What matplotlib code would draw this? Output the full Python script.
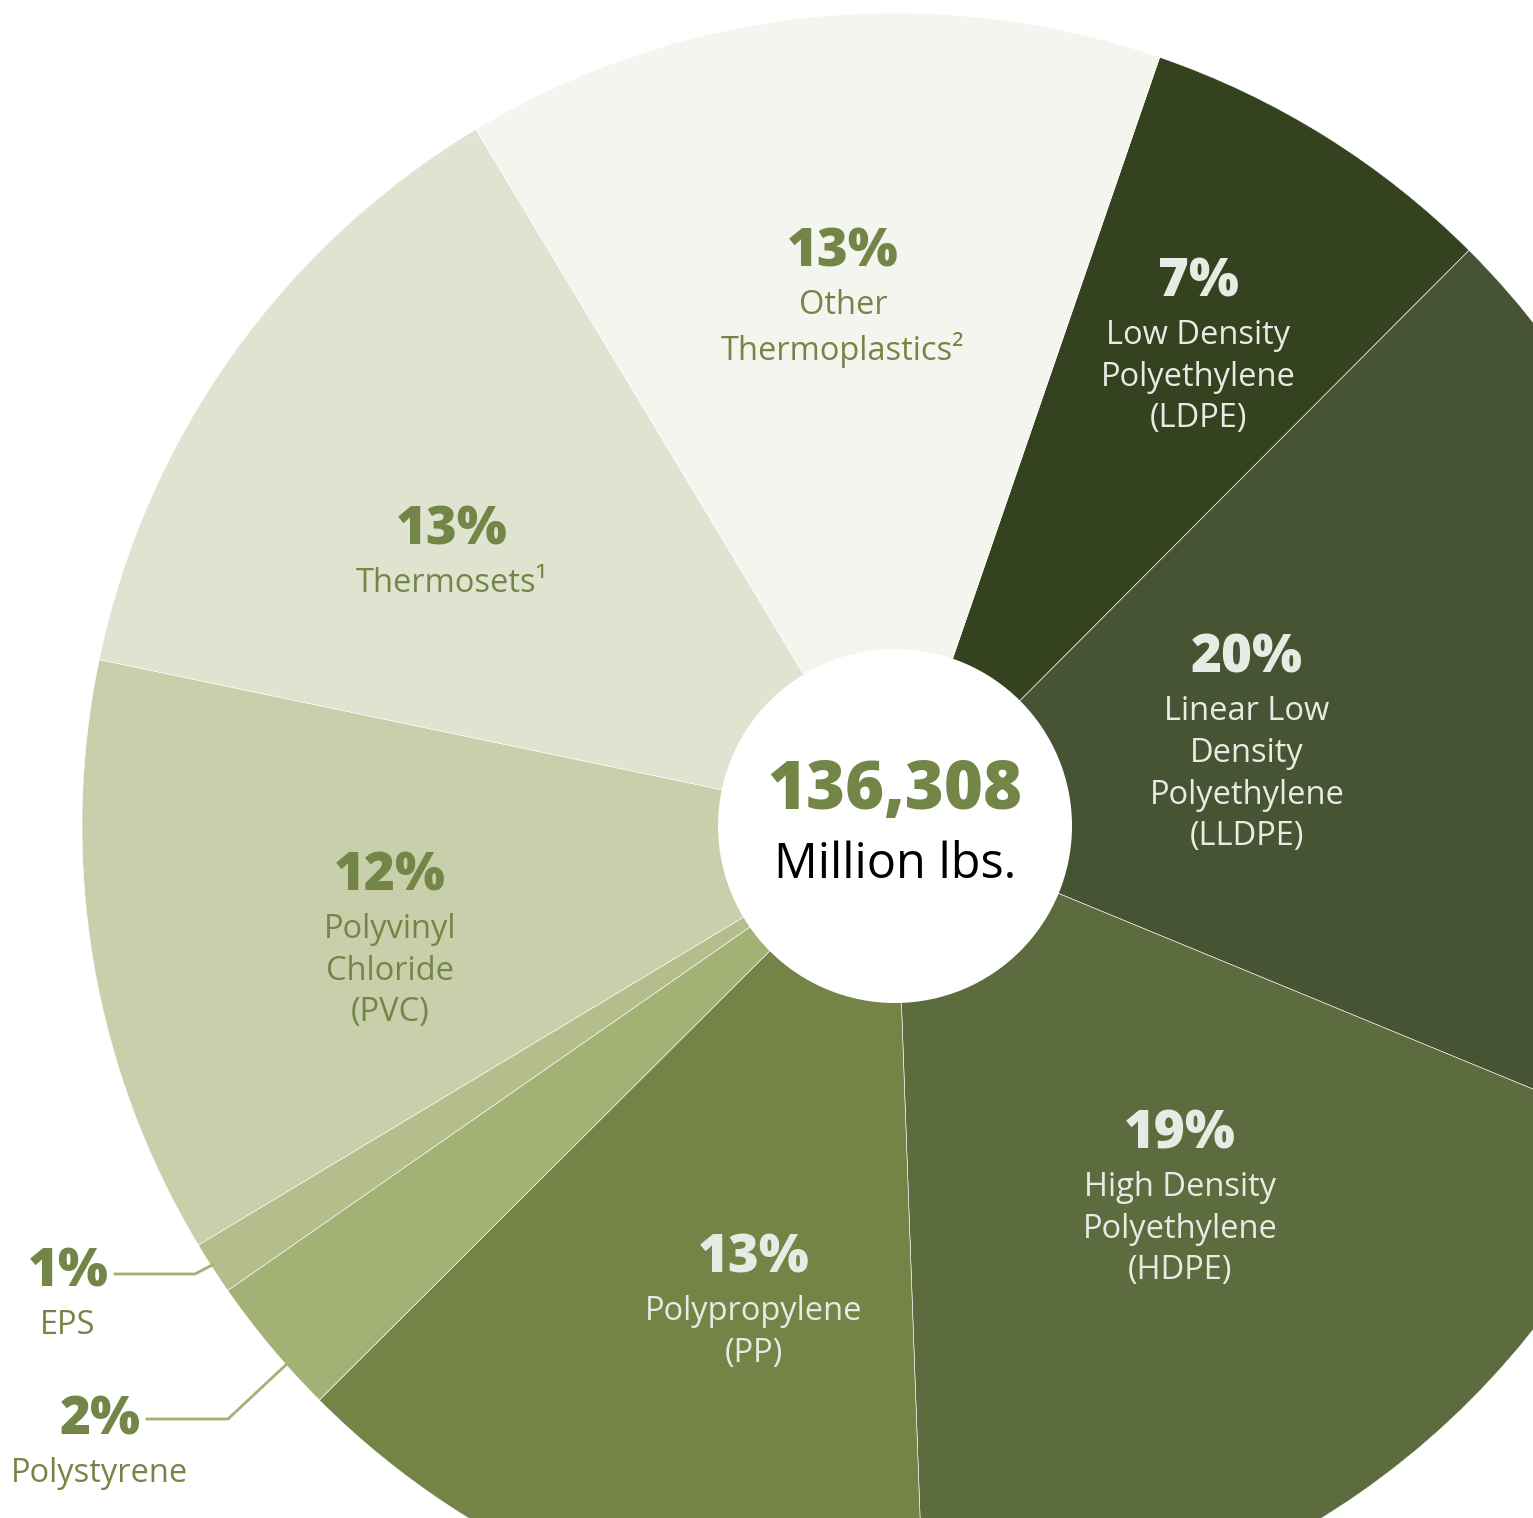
import numpy as np
import matplotlib.pyplot as plt
from matplotlib.patches import Circle

# share of each resin, clockwise from top
resins = ["LDPE", "LLDPE", "HDPE", "PP", "PS", "EPS", "PVC", "Thermosets", "Other"]
shares = [7.2, 18.75, 18.2, 13.1, 2.8, 1.06, 11.9, 13.1, 13.9]
pct_labels = ["7%", "20%", "19%", "13%", "2%", "1%", "12%", "13%", "13%"]
names = ["Low Density\nPolyethylene\n(LDPE)",
         "Linear Low\nDensity\nPolyethylene\n(LLDPE)",
         "High Density\nPolyethylene\n(HDPE)",
         "Polypropylene\n(PP)",
         "Polystyrene",
         "EPS",
         "Polyvinyl\nChloride\n(PVC)",
         "Thermosets\u00b9",
         "Other\nThermoplastics\u00b2"]
total = "136,308"
unit = "Million lbs."

colors = ["#344220", "#475433", "#5c6c3e", "#738446", "#a3b174",
          "#b4be8c", "#c9cfaa", "#e0e3cf", "#f4f5ee"]
txt_col = ["#e6ece4", "#e6ece4", "#e6ece4", "#e6ece4", "#748647",
           "#748647", "#748647", "#748647", "#748647"]

W, H = 1533, 1518
cx, cy = 895, H - 826
R = 813

# label anchor (pixel, y down) for each slice
lab_pos = [(1198, 283), (1247, 659), (1180, 1135), (754, 1259), (100, 1421),
           (68, 1273), (390, 877), (452, 531), (843, 253)]

plt.rcParams['font.family'] = ['Open Sans', 'DejaVu Sans']

fig = plt.figure(figsize=(W / 100, H / 100), dpi=100)
ax = fig.add_axes([0, 0, 1, 1])

wedges, _ = ax.pie(shares, colors=colors, startangle=71, counterclock=False,
                   center=(cx, cy), radius=R, frame=True,
                   wedgeprops=dict(edgecolor='white', linewidth=0.4))
ax.set_xlim(0, W)
ax.set_ylim(0, H)
ax.set_aspect('equal')
ax.axis('off')

ax.add_patch(Circle((cx, cy), 177, facecolor='white', edgecolor='none', zorder=3))
ax.text(cx, H - 792, total, ha='center', va='center', fontsize=48,
        fontweight='heavy', color='#748647', zorder=4)
ax.text(cx, H - 865, unit, ha='center', va='center', fontsize=35,
        color='black', zorder=4)

for i in range(len(resins)):
    x, y = lab_pos[i]
    ax.text(x, H - y, pct_labels[i], ha='center', va='center', fontsize=38,
            fontweight='heavy', color=txt_col[i], zorder=4)
    ax.text(x, H - y - 36, names[i], ha='center', va='top', fontsize=23.5,
            color=txt_col[i], linespacing=1.35, zorder=4)

# leader lines for the two thin slices (fraction along the slice where line meets rim)
elbows = {"PS": (0.66, [(228, 1419), (147, 1419)]),
          "EPS": (0.45, [(195, 1274), (115, 1274)])}
for k, (frac, pts) in elbows.items():
    w = wedges[resins.index(k)]
    ang = np.deg2rad(w.theta1 + frac * (w.theta2 - w.theta1))
    xs = [cx + (R - 2) * np.cos(ang)] + [p[0] for p in pts]
    ys = [cy + (R - 2) * np.sin(ang)] + [H - p[1] for p in pts]
    ax.plot(xs, ys, color='#a3b174', lw=2, zorder=4, clip_on=False)

fig.savefig("out.png", dpi=100)
